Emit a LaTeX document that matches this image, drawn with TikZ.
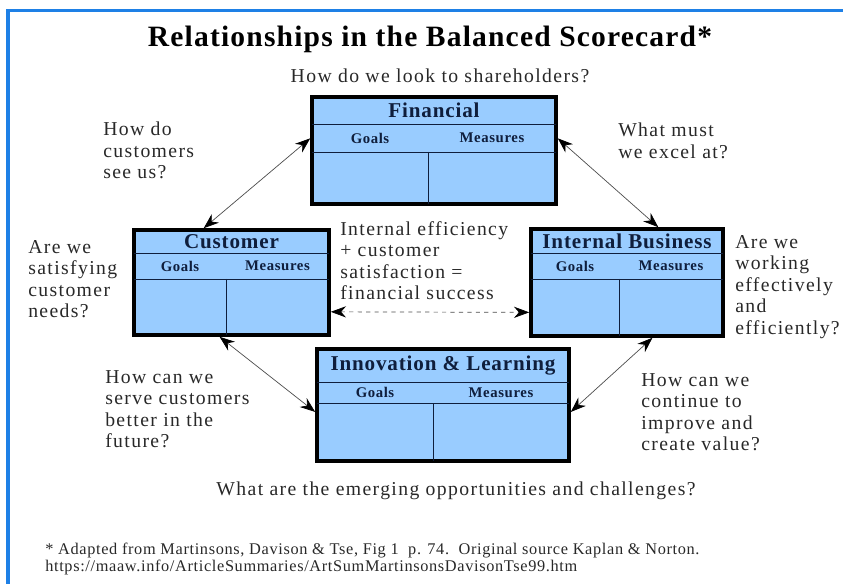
\documentclass[tikz,border=0pt]{standalone}
\usepackage{fontspec}
\setmainfont{Liberation Serif}
\newfontfamily\wideserif[LetterSpace=7]{Liberation Serif}
\newfontfamily\headserif[LetterSpace=4]{Liberation Serif}
\usetikzlibrary{arrows.meta,calc,fit,positioning}
\definecolor{cardblue}{RGB}{153,204,255}
\definecolor{frameblue}{RGB}{30,128,230}
\definecolor{navy}{RGB}{15,30,60}
\definecolor{txtgray}{RGB}{40,40,40}

\begin{document}
\begin{tikzpicture}[
  x=0.025cm, y=-0.025cm,
  > = {Stealth[length=3.8mm,width=2.8mm,black]},
  card/.style = {draw=black, line width=0.9mm, fill=cardblue, inner sep=0pt},
  rule/.style = {draw=navy, line width=0.6pt},
  cardtitle/.style = {font=\headserif\fontsize{15}{17}\selectfont\bfseries, text=navy, inner sep=0pt},
  colhead/.style = {font=\headserif\fontsize{10.5}{12}\selectfont\bfseries, text=navy, inner sep=0pt},
  ask/.style = {font=\wideserif\fontsize{14}{15.3}\selectfont, text=txtgray, align=left, anchor=north west, inner sep=0pt},
  note/.style = {font=\headserif\fontsize{11.6}{12}\selectfont, text=txtgray, anchor=base west, inner sep=0pt},
  link/.style = {<->, draw=black!70, line width=0.5pt}
  ]
	\useasboundingbox (0,0) rectangle (843,584);
	\draw[frameblue, line width=0.75mm] (8,584) -- (8,11) -- (843,11);

	\node[font=\headserif\fontsize{21}{24}\selectfont\bfseries, anchor=base] (title) at (430,47) {Relationships in the Balanced Scorecard*};

	% the four perspectives
	\foreach \nm/\l/\t/\r/\b/\tt/\hh/\cc/\lab in {
		fin/312/97/556/204/124/152/428/Financial,
		cus/134/230/329/335/253/279/226/Customer,
		ibs/531/229/723/336/253/279/619/Internal Business,
		inn/317/349/569/461/382/403/433/Innovation \& Learning}
	{
		\node[card, fit={(\l,\t) (\r,\b)}] (\nm) {};
		\draw[rule] (\l,\tt) -- (\r,\tt) (\l,\hh) -- (\r,\hh) (\cc,\hh) -- (\cc,\b);
		\node[cardtitle] (\nm-title) at ({(\l+\r)/2},{(\t+\tt)/2}) {\lab};
		\node[colhead] (\nm-goals) at ({(\l+\cc)/2},{(\tt+\hh)/2}) {Goals};
		\node[colhead] (\nm-meas) at ({(\cc+\r)/2},{(\tt+\hh)/2}) {Measures};
	}

	\draw[link] ($(cus.north west)!0.36!(cus.north east)$) -- ($(fin.north west)!0.39!(fin.south west)$);
	\draw[link] ($(fin.north east)!0.39!(fin.south east)$) -- ($(ibs.north west)!0.66!(ibs.north east)$);
	\draw[link] ($(cus.south west)!0.44!(cus.south east)$) -- ($(inn.north west)!0.56!(inn.south west)$);
	\draw[link] ($(ibs.south west)!0.63!(ibs.south east)$) -- ($(inn.north east)!0.56!(inn.south east)$);
	\draw[link, dashed] ($(cus.north east)!0.77!(cus.south east)$) -- ($(ibs.north west)!0.77!(ibs.south west)$);

	% questions
	\node[ask, anchor=base] (q-fin) at (440,83) {How do we look to shareholders?};
	\node[ask] (q-cus) at (103,122) {How do\\customers\\see us?};
	\node[ask] (q-exc) at (618,123) {What must\\we excel at?};
	\node[ask] (q-sat) at (28,240) {Are we\\satisfying\\customer\\needs?};
	\node[ask] (q-mid) at (340,221) {Internal efficiency\\+ customer\\satisfaction =\\financial success};
	\node[ask] (q-ibs) at (735,235) {Are we\\working\\effectively\\and\\efficiently?};
	\node[ask] (q-fut) at (105,370) {How can we\\serve customers\\better in the\\future?};
	\node[ask] (q-val) at (641,373) {How can we\\continue to\\improve and\\create value?};
	\node[ask, anchor=base] (q-inn) at (456,495) {What are the emerging opportunities and challenges?};

	\node[note] (note1) at (45,554) {* Adapted from Martinsons, Davison \& Tse, Fig 1\ \ p. 74.\ \ Original source Kaplan \& Norton.};
	\node[note] (note2) at (45,571) {https://maaw.info/ArticleSummaries/ArtSumMartinsonsDavisonTse99.htm};
\end{tikzpicture}
\end{document}
